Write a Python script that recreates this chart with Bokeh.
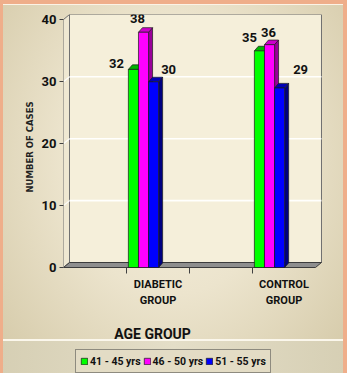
from bokeh.plotting import figure
from bokeh.models import (Range1d, FixedTicker, ColumnDataSource, LabelSet, Title,
                          Legend, LegendItem)
from bokeh.core.properties import value
from bokeh.embed import file_html
from bokeh.resources import INLINE

# ---------------- data ----------------
categories = ["DIABETIC GROUP", "CONTROL GROUP"]
series_names = ["41 - 45 yrs", "46 - 50 yrs", "51 - 55 yrs"]
values_41_45 = [32, 35]
values_46_50 = [38, 36]
values_51_55 = [30, 29]
y_ticks = [0, 10, 20, 30, 40]
grid_values = [10, 20, 30]
x_title = "AGE GROUP"
y_title = "NUMBER OF CASES"

series_values = [values_41_45, values_46_50, values_51_55]

# ---------------- style ----------------
front_colors = ["#00ff00", "#ff00ff", "#0000ff"]
side_colors = ["#008000", "#990099", "#000080"]
top_colors = ["#00b400", "#cc00cc", "#0000b4"]
edge = "#1a1a1a"
label_dx = [[-17, -10], [-6, -1], [15, 21]]   # screen px offsets of value labels
label_dy = [[6, 13], [14, 12], [12, 18]]

FONT = "Roboto"
WIDE = "DejaVu Sans"
INK = "#111111"

W, H = 347, 373
ML, MR, MT, MB = 63, 25, 14, 0
frame_w = W - ML - MR
frame_h = H - MT - MB
px_per_cat = 63.0
px_per_val = 6.19
zero_px = 253.0          # distance of value 0 below the frame top
x_end = frame_w / px_per_cat
y_end = zero_px / px_per_val
y_start = y_end - frame_h / px_per_val


def py(px_below_zero):
    """value that lies the given number of pixels below the value 0"""
    return -px_below_zero / px_per_val


p = figure(width=W, height=H, output_backend="svg", toolbar_location=None,
           x_range=Range1d(0, x_end), y_range=Range1d(y_start, y_end),
           min_border_left=ML, min_border_right=MR, min_border_top=MT, min_border_bottom=MB,
           border_fill_color=None, background_fill_color=None, outline_line_color=None)

p.styles = {
    "background-image": ("linear-gradient(#fbf7ec, #fbf7ec), "
                         "linear-gradient(to right, #d6cfb4, #e4dec8 50%, #d6cfb4), "
                         "radial-gradient(ellipse farthest-corner at 50% 42%, #f6f0de 0%, #ece4cd 45%, #d3c8a6 100%)"),
    "background-size": "100% 2px, 100% 33px, 100% 100%",
    "background-position": "0 339px, 0 341px, 0 0",
    "background-repeat": "no-repeat",
    "box-shadow": ("inset 3px 0 0 0 #efae8a, inset -4px 0 0 0 #efae8a, "
                   "inset 0 4px 0 0 #efae8a, inset 0 5px 0 0 #fbf3e6"),
}

p.xgrid.grid_line_color = None
p.ygrid.grid_line_color = None

# ---------------- 3D walls ----------------
wdx = 6 / px_per_cat
wdy = 5 / px_per_val
wall_right = 4.095
floor_right = 4.0
wall_line = "#707070"

p.patch([0, wdx, wdx, 0], [0, wdy, y_end, y_end - wdy],
        fill_color="#efe8d2", line_color=wall_line, line_width=1)
p.quad(left=[wdx], right=[wall_right], bottom=[wdy], top=[y_end],
       fill_color="#f5efda", line_color=wall_line, line_width=1)
p.segment(x0=[wdx] * len(grid_values), y0=[g + wdy for g in grid_values],
          x1=[wall_right] * len(grid_values), y1=[g + wdy for g in grid_values],
          line_color="#ffffff", line_width=1.6, line_alpha=0.95)
p.segment(x0=[0] * len(grid_values), y0=grid_values,
          x1=[wdx] * len(grid_values), y1=[g + wdy for g in grid_values],
          line_color="#ffffff", line_width=1.2, line_alpha=0.9)
p.patch([0, floor_right, wall_right, wdx], [0, 0, wdy, wdy],
        fill_color="#8e8e8e", line_color="#3c3c3c", line_width=1)

# ---------------- bars ----------------
bw = 0.16
bdx = 4 / px_per_cat
bdy = 4.6 / px_per_val
bar_renderers = []
label_x, label_y, label_t, ldx, ldy = [], [], [], [], []
for s, vals in enumerate(series_values):
    lefts = [1 + 2 * i + 0.03 + s * bw for i in range(len(categories))]
    rights = [l + bw for l in lefts]
    p.patches([[r, r + bdx, r + bdx, r] for r in rights],
              [[0, bdy, v + bdy, v] for v in vals],
              fill_color=side_colors[s], line_color=edge, line_width=0.7)
    p.patches([[l, r, r + bdx, l + bdx] for l, r in zip(lefts, rights)],
              [[v, v, v + bdy, v + bdy] for v in vals],
              fill_color=top_colors[s], line_color=edge, line_width=0.7)
    r_front = p.quad(left=lefts, right=rights, bottom=[0] * len(vals), top=vals,
                     fill_color=front_colors[s], line_color=edge, line_width=0.7)
    bar_renderers.append(r_front)
    for i, v in enumerate(vals):
        label_x.append((lefts[i] + rights[i]) / 2)
        label_y.append(v)
        label_t.append(str(v))
        ldx.append(label_dx[s][i])
        ldy.append(label_dy[s][i])

lsrc = ColumnDataSource(dict(x=label_x, y=label_y, text=label_t, dx=ldx, dy=ldy))
p.add_layout(LabelSet(x="x", y="y", text="text", x_offset="dx", y_offset="dy", source=lsrc,
                      text_font=value(FONT), text_font_style="bold", text_font_size="13px",
                      text_color=INK, text_align="center", text_baseline="middle"))

# ---------------- y axis ----------------
yax = p.yaxis[0]
yax.ticker = FixedTicker(ticks=y_ticks)
yax.axis_line_color = None
yax.major_tick_out = 4
yax.major_tick_in = 0
yax.major_tick_line_color = "#404040"
yax.minor_tick_line_color = None
yax.major_label_text_font = FONT
yax.major_label_text_font_style = "bold"
yax.major_label_text_font_size = "13px"
yax.major_label_text_color = INK
yax.major_label_standoff = 3

p.add_layout(Title(text=y_title, align="left", offset=181, standoff=8,
                   text_font=WIDE, text_font_style="bold", text_font_size="8.5px",
                   text_color="#222222"), "left")

# ---------------- category axis (drawn on the floor front) ----------------
p.xaxis.visible = False
cat_pos = [1.5 + 2 * i for i in range(len(categories))]
cat_ticks = [1, 2, 3]
p.segment(x0=cat_ticks, y0=[py(0.5)] * 3, x1=cat_ticks, y1=[py(6)] * 3,
          line_color="#404040", line_width=1)
p.text(x=cat_pos, y=[py(10)] * len(cat_pos), text=[c.replace(" ", "\n") for c in categories],
       text_font=value(FONT), text_font_style="bold", text_font_size="11px", text_color=INK,
       text_align="center", text_baseline="top", text_line_height=1.3)

p.text(x=[(152 - ML) / px_per_cat], y=[py(66)], text=[x_title],
       text_font=value(FONT), text_font_style="bold", text_font_size="14px", text_color=INK,
       text_align="center", text_baseline="middle")

# ---------------- legend ----------------
legend = Legend(items=[LegendItem(label=n, renderers=[r]) for n, r in zip(series_names, bar_renderers)],
                orientation="horizontal", location=(12, 0),
                label_text_font=FONT, label_text_font_style="bold", label_text_font_size="10.5px",
                label_text_color=INK, label_standoff=2, label_height=14,
                glyph_width=8, glyph_height=8, spacing=2, padding=4, margin=0,
                border_line_color="#3a3a3a", border_line_width=1,
                background_fill_color="#e3dcc5", background_fill_alpha=1)
p.add_layout(legend, "center")

open("out.html", "w").write(file_html(p, INLINE))
